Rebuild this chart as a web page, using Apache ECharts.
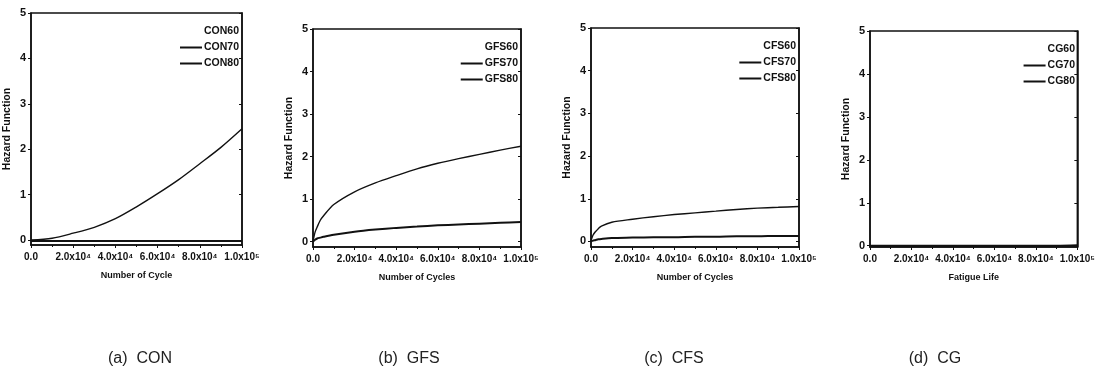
<!DOCTYPE html>
<html>
<head>
<meta charset="utf-8">
<script src="https://cdn.jsdelivr.net/npm/echarts@6/dist/echarts.min.js"></script>
<style>
  html, body { margin: 0; background: #fff; }
  #chart { width: 1098px; height: 373px; }
</style>
</head>
<body>
<div id="chart"></div>
<script>
  // x values (cycles)
  const xA = [0, 10000, 20000, 30000, 40000, 50000, 60000, 70000, 80000, 90000, 100000]
  const xB = [0, 1000, 2000, 3500, 5000, 10000, 20000, 30000, 40000, 50000, 60000, 70000, 80000, 90000, 100000]

  // (a) CON
  const con60 = []
  const con70 = [0, 0.04, 0.15, 0.28, 0.47, 0.73, 1.02, 1.33, 1.68, 2.04, 2.45]
  const con80 = [-0.02, -0.02, -0.02, -0.02, -0.02, -0.02, -0.02, -0.02, -0.02, -0.02, -0.02]
  // (b) GFS
  const gfs60 = []
  const gfs70 = [0, 0.22, 0.34, 0.5, 0.6, 0.87, 1.17, 1.38, 1.55, 1.71, 1.84, 1.95, 2.05, 2.15, 2.24]
  const gfs80 = [0, 0.04, 0.07, 0.09, 0.11, 0.16, 0.23, 0.28, 0.32, 0.35, 0.38, 0.4, 0.42, 0.44, 0.46]
  // (c) CFS
  const cfs60 = []
  const cfs70 = [0.02, 0.15, 0.22, 0.3, 0.36, 0.45, 0.52, 0.58, 0.63, 0.67, 0.71, 0.75, 0.78, 0.8, 0.82]
  const cfs80 = [0, 0.02, 0.03, 0.05, 0.06, 0.08, 0.09, 0.1, 0.1, 0.11, 0.11, 0.12, 0.12, 0.13, 0.13]
  // (d) CG
  const cg60 = []
  const cg70 = [0, 0, 0, 0, 0, 0, 0, 0, 0, 0, 0]
  const cg80 = [0, 0, 0, 0, 0, 0, 0, 0, 0, 0, 0.01]

  const xTickLabels = ['0.0', '2.0x10\u2074', '4.0x10\u2074', '6.0x10\u2074', '8.0x10\u2074', '1.0x10\u2075']
  const yTicks = [0, 1, 2, 3, 4, 5]
  const captions = ['(a)  CON', '(b)  GFS', '(c)  CFS', '(d)  CG']
  const xNames = ['Number of Cycle', 'Number of Cycles', 'Number of Cycles', 'Fatigue Life']

  const font = 'Liberation Sans Narrow, Liberation Sans, Arial, sans-serif'

  // panel boxes in px: left, top, width, height, y min
  const boxes = [
    { left: 31, top: 13, width: 211, height: 232, ymin: -0.11 },
    { left: 313, top: 29, width: 208, height: 218, ymin: -0.13 },
    { left: 591, top: 28, width: 208, height: 219, ymin: -0.13 },
    { left: 870, top: 31, width: 208, height: 216, ymin: -0.03 },
  ]
  const captionX = [135, 404, 669, 930]

  const panels = [
    { names: ['CON60', 'CON70', 'CON80'], x: xA, data: [con60, con70, con80] },
    { names: ['GFS60', 'GFS70', 'GFS80'], x: xB, data: [gfs60, gfs70, gfs80] },
    { names: ['CFS60', 'CFS70', 'CFS80'], x: xB, data: [cfs60, cfs70, cfs80] },
    { names: ['CG60', 'CG70', 'CG80'], x: xA, data: [cg60, cg70, cg80] },
  ]
  const lineWidths = [1.2, 1.4, 2]
  const lineColors = ['#ffffff', '#111', '#111']

  const grid = [], xAxis = [], yAxis = [], series = [], legend = [], title = []

  boxes.forEach((b, i) => {
    grid.push({
      left: b.left, top: b.top, width: b.width, height: b.height,
      show: true, borderColor: '#111', borderWidth: 1.5, backgroundColor: 'transparent'
    })
    xAxis.push({
      gridIndex: i, type: 'value', min: 0, max: 100000, interval: 20000,
      name: xNames[i], nameLocation: 'middle', nameGap: 26,
      nameTextStyle: { fontFamily: font, fontSize: 9, fontWeight: 'bold', color: '#111' },
      axisLine: { onZero: false, lineStyle: { color: '#111', width: 1.5 } },
      axisTick: { length: 3, lineStyle: { color: '#111' } },
      minorTick: { show: true, splitNumber: 2, length: 2, lineStyle: { color: '#111' } },
      splitLine: { show: false },
      axisLabel: {
        fontFamily: font, fontSize: 10, fontWeight: 'bold', color: '#111', margin: 7,
        formatter: v => xTickLabels[Math.round(v / 20000)]
      }
    })
    yAxis.push({
      gridIndex: i, type: 'value', min: b.ymin, max: 5,
      name: 'Hazard Function', nameLocation: 'middle', nameGap: 18,
      nameTextStyle: { fontFamily: font, fontSize: 10.5, fontWeight: 'bold', color: '#111' },
      axisLine: { show: true, lineStyle: { color: '#111', width: 1.5 } },
      axisTick: { show: true, length: 3, customValues: yTicks, lineStyle: { color: '#111' } },
      splitLine: { show: false },
      axisLabel: { fontFamily: font, fontSize: 11, fontWeight: 'bold', color: '#111', margin: 5, customValues: yTicks }
    })
    // right border ticks
    yAxis.push({
      gridIndex: i, type: 'value', min: b.ymin, max: 5, position: 'right',
      axisLine: { show: true, lineStyle: { color: '#111', width: 1.5 } },
      axisTick: { show: true, inside: true, length: 3, customValues: yTicks, lineStyle: { color: '#111' } },
      axisLabel: { show: false },
      splitLine: { show: false }
    })

    const p = panels[i]
    p.names.forEach((n, k) => {
      series.push({
        name: n, type: 'line', xAxisIndex: i, yAxisIndex: i * 2,
        symbol: 'none', smooth: 0.3,
        lineStyle: { color: lineColors[k], width: lineWidths[k] },
        itemStyle: { color: lineColors[k] },
        data: p.data[k].map((v, j) => [p.x[j], v])
      })
    })

    legend.push({
      data: p.names.map((n, k) => ({ name: n, icon: 'rect' })), orient: 'vertical',
      right: 1098 - (b.left + b.width) - 2, top: b.top + 7,
      itemWidth: 22, itemHeight: lineWidths.map(w => w)[2], itemGap: 3,
      textStyle: { fontFamily: font, fontSize: 10.5, fontWeight: 'bold', color: '#111', padding: [0, 0, 0, -3], lineHeight: 13 },
      selectedMode: false
    })

    title.push({
      text: captions[i], left: captionX[i], top: 346, textAlign: 'center',
      textStyle: { fontFamily: 'Liberation Sans, Arial, sans-serif', fontSize: 16, fontWeight: 'normal', color: '#222' }
    })
  })

  const chart = echarts.init(document.getElementById('chart'), null, { renderer: 'canvas' })
  chart.setOption({ animation: false, backgroundColor: '#fff', title, grid, xAxis, yAxis, series, legend })
</script>
</body>
</html>
